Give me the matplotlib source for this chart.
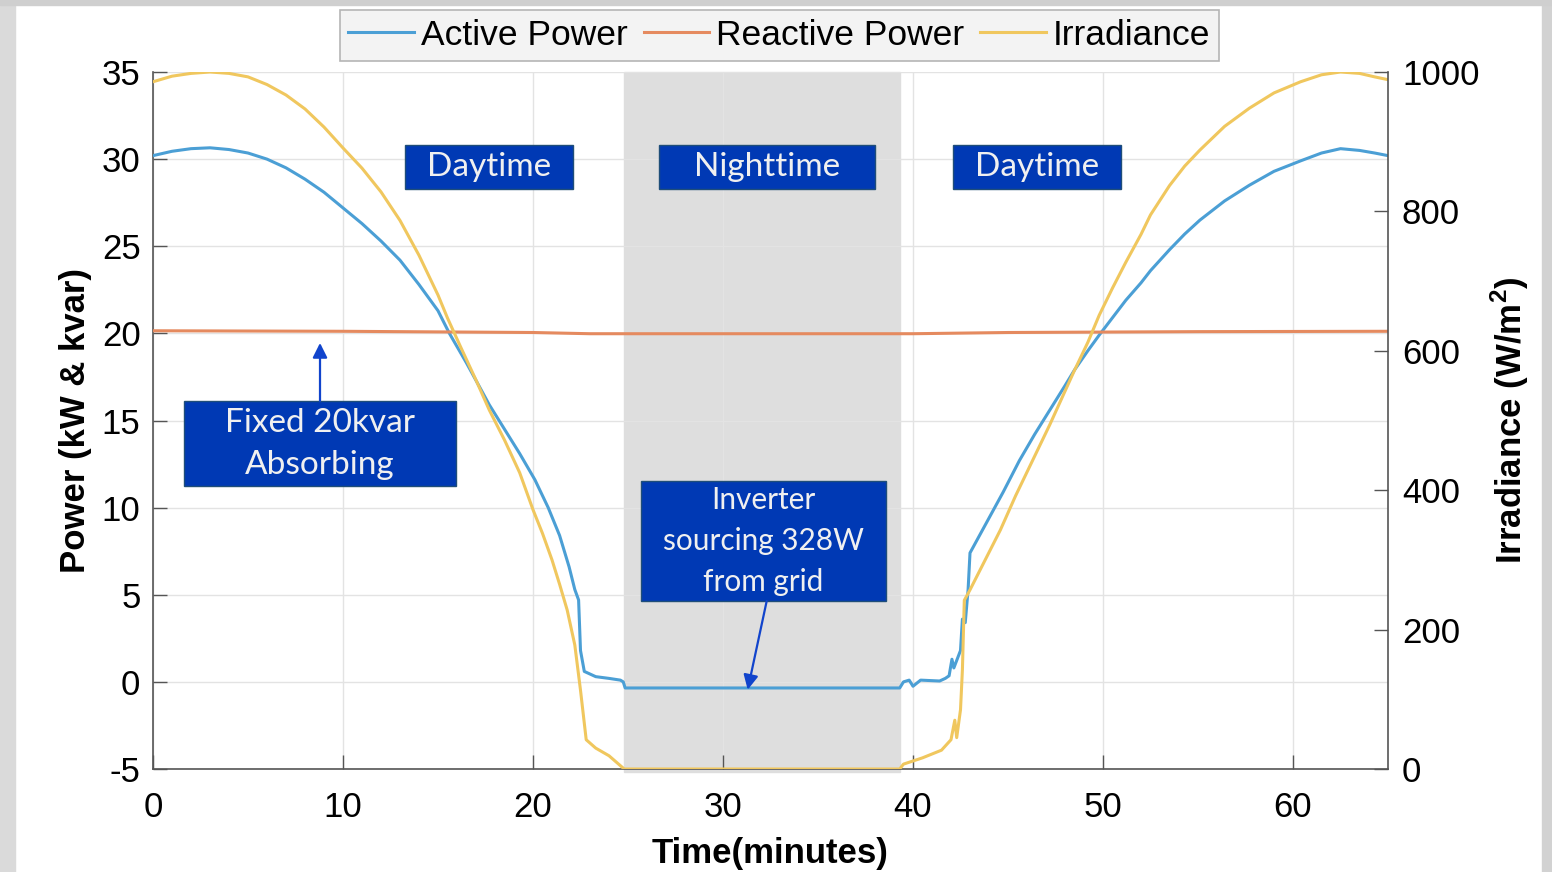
import numpy as np
import matplotlib
matplotlib.use('Agg')
import matplotlib.pyplot as plt
from matplotlib.patches import Rectangle

# data
t_p = [0, 1, 2, 3, 4, 5, 6, 7, 8, 9, 10, 11, 12, 13, 14, 15, 15.6, 16.5, 17, 17.7, 18.5,
       19.3, 20.1, 20.8, 21.4, 21.9, 22.2, 22.4, 22.5, 22.7, 23.3, 24.0, 24.6, 24.75, 24.85,
       30, 35, 39.3, 39.5, 39.8, 40.0, 40.4, 41.4, 41.7, 41.9, 42.05, 42.15, 42.5, 42.6,
       42.75, 42.9, 43.0, 43.8, 44.6, 44.75, 45.6, 46.4, 47.2, 48.0, 48.5, 49.2, 49.8, 50.5,
       51.2, 52, 52.5, 53.5, 54.3, 55.1, 56.4, 57.7, 59, 60.4, 61.5, 62.5, 63.5, 64.3, 65]
p_active = [30.2, 30.45, 30.6, 30.65, 30.55, 30.35, 30.0, 29.5, 28.85, 28.1, 27.2, 26.3,
            25.3, 24.2, 22.8, 21.3, 20.0, 18.3, 17.3, 15.9, 14.5, 13.1, 11.6, 10.0, 8.4,
            6.6, 5.3, 4.7, 1.8, 0.6, 0.3, 0.2, 0.1, 0.0, -0.35, -0.35, -0.35, -0.35, 0.0,
            0.1, -0.25, 0.1, 0.05, 0.2, 0.35, 1.3, 0.8, 1.8, 3.6, 3.4, 5.3, 7.4, 9.0, 10.6,
            10.9, 12.7, 14.2, 15.6, 17.0, 17.9, 19.0, 19.9, 20.9, 21.9, 22.9, 23.6, 24.8,
            25.7, 26.5, 27.6, 28.5, 29.3, 29.9, 30.35, 30.6, 30.5, 30.35, 30.2]

t_q = [0, 10, 20, 23, 30, 40, 45, 55, 65]
q_reactive = [20.15, 20.12, 20.05, 19.98, 19.98, 19.98, 20.05, 20.1, 20.12]

t_g = [0, 1, 2, 3, 4, 5, 6, 7, 8, 9, 10, 11, 12, 13, 14, 15, 15.5, 16.2, 17, 17.7, 18.5,
       19.3, 20, 20.5, 21, 21.4, 21.8, 22.2, 22.5, 22.8, 23.3, 24.0, 24.8, 30, 35, 39.3,
       39.5, 40.5, 41.5, 42.0, 42.2, 42.3, 42.5, 42.6, 42.7, 43.0, 43.8, 44.6, 45.4, 46.3,
       47.2, 48.5, 49.2, 49.8, 50.5, 51.2, 52, 52.5, 53.5, 54.3, 55.1, 56.4, 57.7, 59,
       60.4, 61.5, 62.5, 63.5, 64.3, 65]
irradiance = [986, 994, 998, 1000, 998, 993, 982, 967, 947, 921, 891, 862, 828, 787, 737,
              680, 647, 605, 558, 515, 472, 425, 372, 338, 300, 265, 228, 178, 113, 42, 30,
              19, 0, 0, 0, 0, 7, 16, 27, 42, 70, 45, 85, 142, 242, 257, 300, 343, 392, 443,
              494, 572, 612, 651, 690, 727, 767, 795, 837, 865, 888, 922, 948, 970, 986, 996,
              1000, 998, 993, 989]

night = (24.8, 39.3)
x_ticks = [0, 10, 20, 30, 40, 50, 60]
p_ticks = [-5, 0, 5, 10, 15, 20, 25, 30, 35]
g_ticks = [0, 200, 400, 600, 800, 1000]

blue = '#4b9fd5'
orange = '#e58a5f'
yellow = '#f0c75e'
box_blue = '#0039b4'

plt.rcParams['font.family'] = ['Liberation Sans', 'DejaVu Sans']
plt.rcParams['axes.unicode_minus'] = False
plt.rcParams['mathtext.fontset'] = 'custom'
plt.rcParams['mathtext.bf'] = 'Liberation Sans:bold'
plt.rcParams['mathtext.rm'] = 'Liberation Sans'

fig = plt.figure(figsize=(15.52, 8.72), dpi=100)
fig.patch.set_facecolor('white')
# window shadow frame
fig.patches.append(Rectangle((0, 0), 15 / 1552, 1, transform=fig.transFigure, color='#dadada', zorder=-5))
fig.patches.append(Rectangle((1542 / 1552, 0), 10 / 1552, 1, transform=fig.transFigure, color='#d2d2d2', zorder=-5))
fig.patches.append(Rectangle((0, 1 - 5 / 872), 1, 5 / 872, transform=fig.transFigure, color='#cfcfcf', zorder=-5))

ax = fig.add_axes([153 / 1552, 103 / 872, 1235 / 1552, 697 / 872])
ax2 = ax.twinx()

ax.axvspan(night[0], night[1], ymin=-0.005, ymax=1, color='#dedede', zorder=0.2, clip_on=False)
l1, = ax.plot(t_p, p_active, color=blue, lw=2.2, label='Active Power', zorder=3)
l2, = ax.plot(t_q, q_reactive, color=orange, lw=2.2, label='Reactive Power', zorder=3)
l3, = ax2.plot(t_g, irradiance, color=yellow, lw=2.2, label='Irradiance')

ax.set_xlim(0, 65)
ax.set_ylim(-5, 35)
ax2.set_ylim(0, 1000)
ax.set_xticks(x_ticks)
ax.set_yticks(p_ticks)
ax2.set_yticks(g_ticks)
ax.set_axisbelow(True)
ax.grid(True, color='#e3e3e3', lw=1.0)

for a in (ax, ax2):
    a.spines['top'].set_visible(False)
    for s in a.spines.values():
        s.set_color('#555555')
        s.set_linewidth(1.2)
ax.spines['right'].set_visible(False)
ax2.spines['left'].set_visible(False)
ax2.spines['bottom'].set_visible(False)

ax.tick_params(axis='y', direction='in', length=10, width=1, colors='#555555',
               labelcolor='black', labelsize=25, pad=9)
ax.tick_params(axis='x', direction='in', length=10, width=1, colors='#555555',
               labelcolor='black', labelsize=25, pad=16)
ax2.tick_params(axis='y', direction='in', length=10, width=1, colors='#555555',
                labelcolor='black', labelsize=25, pad=10)

ax.set_xlabel('Time(minutes)', fontsize=25, fontweight='bold')
ax.set_ylabel('Power (kW & kvar)', fontsize=25, fontweight='bold')
ax2.set_ylabel(r'Irradiance (W/m$^{\mathbf{2}}$)', fontsize=25, fontweight='bold')
ax.xaxis.set_label_coords(0.5, -0.097)
ax.yaxis.set_label_coords(-0.049, 0.5)
ax2.yaxis.set_label_coords(1.082, 0.5)


def label_box(x0, x1, y0, y1, text, size, spacing=1.2):
    ax.add_patch(Rectangle((x0, y0), x1 - x0, y1 - y0, facecolor=box_blue,
                           edgecolor='#1f4e79', lw=1, zorder=5))
    ax.text((x0 + x1) / 2, (y0 + y1) / 2, text, color='#f0f0f0', fontsize=size,
            family=['Lato', 'DejaVu Sans'], ha='center', va='center',
            multialignment='center', linespacing=spacing, zorder=6)


label_box(13.26, 22.1, 28.29, 30.81, 'Daytime', 24)
label_box(26.63, 38.0, 28.29, 30.81, 'Nighttime', 24)
label_box(42.1, 50.95, 28.29, 30.81, 'Daytime', 24)
label_box(1.63, 15.95, 11.24, 16.12, 'Fixed 20kvar\nAbsorbing', 24, 1.5)
label_box(25.68, 38.58, 4.64, 11.53, 'Inverter\nsourcing 328W\nfrom grid', 21.4, 1.55)

arrow = dict(arrowstyle='-|>', color='#1144cc', lw=1.6, mutation_scale=22, shrinkA=0, shrinkB=0)
ax.annotate('', xy=(8.79, 19.45), xytext=(8.79, 16.12), arrowprops=arrow, zorder=6)
ax.annotate('', xy=(31.3, -0.45), xytext=(32.3, 4.64), arrowprops=arrow, zorder=6)

leg = fig.legend(handles=[l1, l2, l3], loc='upper center', bbox_to_anchor=(779.5 / 1552, 1 - 10 / 872),
                 ncol=3, fontsize=25.5, frameon=True, fancybox=False, framealpha=1,
                 facecolor='#f3f3f3', edgecolor='#b5b5b5', handlelength=1.85,
                 handletextpad=0.2, columnspacing=0.45, borderpad=0.25, borderaxespad=0)
leg.get_frame().set_linewidth(1.2)

fig.savefig('out.png', dpi=100)
